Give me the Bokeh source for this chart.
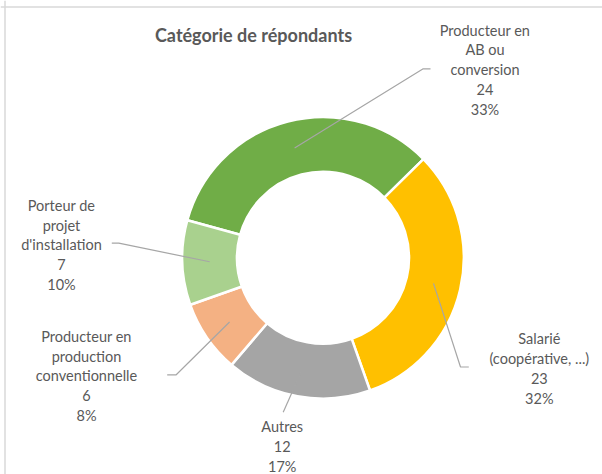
import math
from bokeh.plotting import figure
from bokeh.models import Range1d, Span, ColumnDataSource
from bokeh.core.properties import value
from bokeh.embed import file_html
from bokeh.resources import INLINE

# ---- data ----
categories = ["Producteur en\nAB ou\nconversion", "Salarié\n(coopérative, ...)", "Autres",
              "Producteur en\nproduction\nconventionnelle", "Porteur de\nprojet\nd'installation"]
counts = [24, 23, 12, 6, 7]
colors = ["#70AD47", "#FFC000", "#A5A5A5", "#F4B183", "#A9D18E"]
title_text = "Catégorie de répondants"

# ---- layout (page px) ----
W, H = 602, 474
OX, OY = 0, 0                # where the figure's top-left lands on the picture
CX, CY = 322.5, 257.3        # centre of the doughnut (page px)
R_OUT, R_IN = 140.8, 86.0
FIRST_ANGLE = 285.5          # clockwise from 12 o'clock, degrees
label_pos = [(484.5, 69.3), (538.8, 368.3), (281.7, 446.0), (86.0, 375.5), (61.0, 244.5)]
leader_pts = [[(422.7, 68.3), (430.0, 68.3)],
              [(460.0, 366.5), (468.3, 366.5)],
              [(282.7, 411.7)],
              [(175.7, 374.3), (166.7, 374.3)],
              [(118.3, 242.7), (111.3, 242.7)]]

def X(sx):
    return sx

def Y(sy):
    return 1000 - sy

p = figure(width=W, height=H, output_backend="svg", toolbar_location=None,
           x_range=Range1d(OX, OX + W), y_range=Range1d(1000 - OY - H, 1000 - OY),
           min_border=0, background_fill_color="white", border_fill_color="white")
p.axis.visible = False
p.grid.visible = False
p.outline_line_color = None

total = sum(counts)
starts, ends, mids = [], [], []
a = FIRST_ANGLE
for c in counts:
    span = c / total * 360.0
    starts.append(a)
    ends.append(a + span)
    mids.append(a + span / 2)
    a += span

src = ColumnDataSource(dict(
    x=[X(CX)] * len(counts), y=[Y(CY)] * len(counts),
    start=[math.radians(90 - s) for s in starts],
    end=[math.radians(90 - e) for e in ends],
    color=colors))
p.annular_wedge(x="x", y="y", inner_radius=R_IN, outer_radius=R_OUT,
                start_angle="start", end_angle="end", direction="clock",
                fill_color="color", line_color="white", line_width=2.5, source=src)

r_mid = (R_IN + R_OUT) / 2
for m, pts in zip(mids, leader_pts):
    ax = CX + r_mid * math.sin(math.radians(m))
    ay = CY - r_mid * math.cos(math.radians(m))
    xs = [X(ax)] + [X(q[0]) for q in pts]
    ys = [Y(ay)] + [Y(q[1]) for q in pts]
    p.line(xs, ys, line_color="#A6A6A6", line_width=1.2)

texts = []
for cat, c in zip(categories, counts):
    pct = round(c / total * 100)
    texts.append(f"{cat}\n{c}\n{pct}%")
p.text(x=[X(q[0]) for q in label_pos], y=[Y(q[1]) for q in label_pos], text=texts,
       text_font=value("Lato"), text_font_size="14.5px", text_color="#595959",
       text_align="center", text_baseline="middle", text_line_height=1.17)

p.text(x=[X(253)], y=[Y(34)], text=[title_text], text_font=value("Lato"),
       text_font_size="18px", text_font_style="bold", text_color="#595959",
       text_align="center", text_baseline="middle")

p.add_layout(Span(location=4.5, dimension="height", line_color="#D9D9D9", line_width=1.5))
p.add_layout(Span(location=1000 - 6.5, dimension="width", line_color="#D9D9D9", line_width=1.5))

open("out.html", "w").write(file_html(p, INLINE))
